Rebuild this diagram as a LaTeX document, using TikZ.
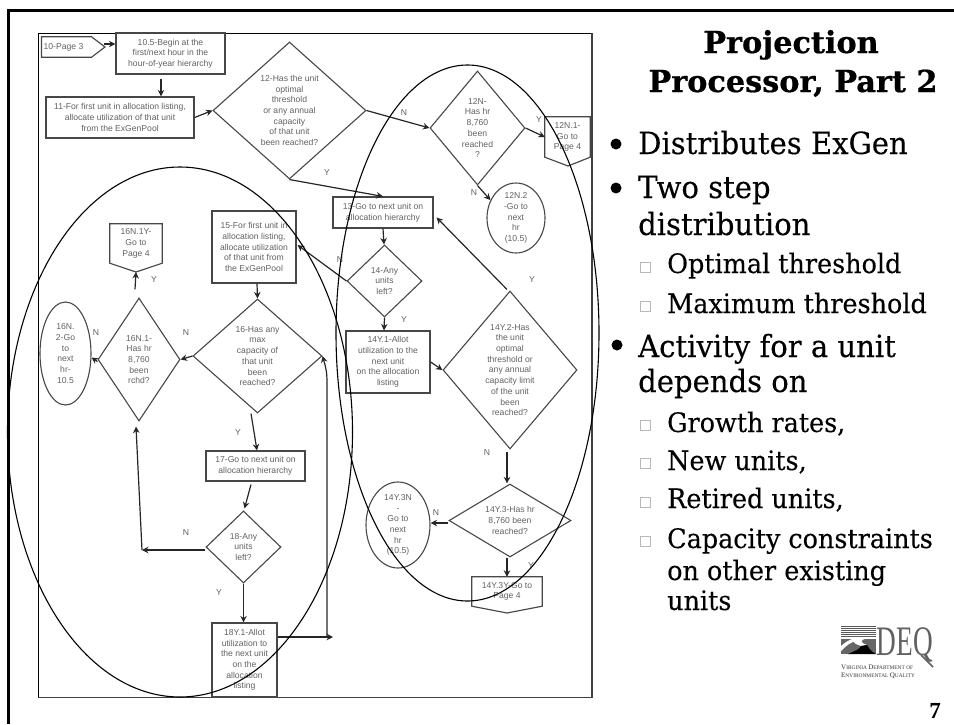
\documentclass[tikz,border=0pt]{standalone}
\usepackage{fontspec}
\setmainfont[FakeStretch=0.95,FakeBold=0.25]{DejaVu Serif}
\newfontfamily\titlefont[FakeBold=0.6]{DejaVu Serif Bold}
\newfontfamily\flowfont{Liberation Sans}
\newfontfamily\logofont{Liberation Serif}
\usetikzlibrary{shapes.geometric,arrows.meta,calc}
\definecolor{flowgray}{gray}{0.28}
\definecolor{flowtext}{gray}{0.38}
\definecolor{chkgray}{gray}{0.72}
\definecolor{logogray}{gray}{0.38}
\tikzset{
  stepbox/.style={draw=flowgray,line width=1.15pt,rectangle,inner sep=0pt,align=center,text=flowtext,font=\flowfont\fontsize{8.6}{10.7}\selectfont},
  offnode/.style={rectangle,inner sep=0pt,align=center,text=flowtext,font=\flowfont\fontsize{8.6}{10.7}\selectfont},
  offline/.style={draw=flowgray,line width=1.15pt,line join=miter},
  dia/.style={draw=flowgray,line width=1.1pt,diamond,inner sep=0pt},
  ell/.style={draw=flowgray,line width=1.1pt,ellipse,inner sep=0pt},
  txt/.style={inner sep=0pt,align=center,text=flowtext,font=\flowfont\fontsize{8.6}{10.7}\selectfont},
  lab/.style={inner sep=0pt,text=flowtext,font=\flowfont\fontsize{8.6}{10}\selectfont},
  conn/.style={draw=black!85,line width=1.2pt,-{Stealth[length=6.5pt,width=6.5pt]}},
  ring/.style={draw=black,line width=1.1pt,ellipse,inner sep=0pt},
  bigt/.style={anchor=base west,inner sep=0pt,font=\fontsize{30.6}{31}\selectfont},
  subt/.style={anchor=base west,inner sep=0pt,font=\fontsize{26.8}{30}\selectfont},
  titl/.style={anchor=base,inner sep=0pt,font=\titlefont\fontsize{30.3}{31}\selectfont},
  dot/.style={circle,fill=black,inner sep=0pt,minimum size=11pt},
  chk/.style={rectangle,draw=chkgray,line width=0.9pt,inner sep=0pt,minimum size=10pt},
}
\newcommand{\dianode}[6]{\node[dia,minimum width=#4pt,minimum height=#5pt] (#1) at (#2,#3) {};\node[txt] (#1T) at (#1) {#6};}
\newcommand{\ellnode}[6]{\node[ell,minimum width=#4pt,minimum height=#5pt] (#1) at (#2,#3) {};\node[txt] (#1T) at (#1) {#6};}
\newcommand{\boxnode}[6]{\node[stepbox,minimum width=#4pt,minimum height=#5pt] (#1) at (#2,#3) {#6};}
\begin{document}
\begin{tikzpicture}[x=1pt,y=-1pt]
\useasboundingbox (0,0) rectangle (954,724);
% slide rule
\coordinate (slA) at (8.5,724);
\coordinate (slB) at (8.5,10.5);
\coordinate (slC) at (954,10.5);
\draw[line width=2.6pt,line join=miter] (slA) -- (slB) -- (slC);
% frame
\coordinate (frTL) at (38,33);
\coordinate (frTR) at (592,33);
\coordinate (frBR) at (592,697.5);
\coordinate (frBL) at (38,697.5);
\draw[line width=1pt,black] (frBL) -- (frTL) -- (frTR);
\draw[line width=1.4pt,black!75] (frTR) -- (frBR) -- (frBL);
% boxes
\boxnode{n10h}{170.5}{53.5}{109}{41}{10.5-Begin at the\\first/next hour in the\\hour-of-year hierarchy}
\boxnode{n11}{120}{117.5}{148}{41}{11-For first unit in allocation listing,\\allocate utilization of that unit\\from the ExGenPool}
\boxnode{n13}{383}{212.5}{100}{31}{13-Go to next unit on\\allocation hierarchy}
\boxnode{n15}{254}{247}{84}{72}{15-For first unit in\\allocation listing,\\allocate utilization\\of that unit from\\the ExGenPool}
\boxnode{n14Y1}{388}{362}{84}{62}{14Y.1-Allot\\utilization to the\\next unit\\on the allocation\\listing}
\boxnode{n17}{255.5}{466}{99}{30}{17-Go to next unit on\\allocation hierarchy}
\boxnode{n18Y1}{244.5}{660}{65}{74}{18Y.1-Allot\\utilization to\\the next unit\\on the\\allocation\\listing}
% diamonds
\dianode{n12}{289.5}{110.5}{153}{137}{12-Has the unit\\optimal\\threshold\\or any annual\\capacity\\of that unit\\been reached?}
\dianode{n12n}{477.5}{128}{95}{114}{12N-\\Has hr\\8,760\\been\\reached\\?}
\dianode{n14}{384.5}{281}{75}{72}{14-Any\\units\\left?}
\dianode{n14Y2}{510}{370}{134}{158}{14Y.2-Has\\the unit\\optimal\\threshold or\\any annual\\capacity limit\\of the unit\\been\\reached?}
\dianode{n14Y3}{510}{520.5}{122}{73}{14Y.3-Has hr\\8,760 been\\reached?}
\dianode{n16}{257.5}{356}{129}{114}{16-Has any\\max\\capacity of\\that unit\\been\\reached?}
\dianode{n16N1}{139}{359.5}{82}{123}{16N.1-\\Has hr\\8,760\\been\\rchd?}
\dianode{n18}{243.5}{547}{75}{72}{18-Any\\units\\left?}
% ellipses
\ellnode{n12n2}{516}{218}{58}{70}{12N.2\\-Go to\\next\\hr\\(10.5)}
\ellnode{n14Y3N}{398}{525}{64}{86}{14Y.3N\\-\\Go to\\next\\hr\\(10.5)}
\ellnode{n16N2}{65.5}{353.5}{51}{103}{16N.\\2-Go\\to\\next\\hr-\\10.5}
% off-page connectors
\node[offnode,minimum width=47pt,minimum height=20pt] (n10p) at (66.5,47) {\hspace*{2pt}10-Page 3\hspace*{8pt}};
\coordinate (n10ptip) at (105,47);
\draw[offline] (n10p.north west) -- (n10p.north east) -- (n10ptip) -- (n10p.south east) -- (n10p.south west) -- cycle;
\node[offnode,minimum width=45pt,minimum height=40pt] (n12n1) at (567.5,137) {12N.1-\\Go to\\Page 4};
\coordinate (n12n1tip) at (568,166);
\draw[offline] (n12n1.north west) -- (n12n1.north east) -- (n12n1.south east) -- (n12n1tip) -- (n12n1.south west) -- cycle;
\node[offnode,minimum width=70pt,minimum height=29pt] (n14Y3Y) at (507,591.5) {14Y.3Y-Go to\\Page 4};
\coordinate (n14Y3Ytip) at (507,613);
\draw[offline] (n14Y3Y.north west) -- (n14Y3Y.north east) -- (n14Y3Y.south east) -- (n14Y3Ytip) -- (n14Y3Y.south west) -- cycle;
\node[offnode,minimum width=52pt,minimum height=39pt] (n16N1Y) at (136,243.5) {16N.1Y-\\Go to\\Page 4};
\coordinate (n16N1Ytip) at (136,272);
\draw[offline] (n16N1Y.north west) -- (n16N1Y.north east) -- (n16N1Y.south east) -- (n16N1Ytip) -- (n16N1Y.south west) -- cycle;
% connectors
\coordinate (n10pout) at (104,44);
\draw[conn] (n10pout) -- ([yshift=9.5pt]n10h.west);
\draw[conn] ([xshift=-9.5pt,yshift=-4pt]n10h.south) -- ([xshift=41pt]n11.north);
\draw[conn] (n11.east) -- (n12.west);
\draw[conn] (n12.east) -- (n12n.west);
\draw[conn] (n12.south) -- (n13.north);
\draw[conn] (n13.south) -- ([xshift=-0.5pt]n14.north);
\draw[conn] (n14.west) -- ([xshift=1pt,yshift=2pt]n15.east);
\draw[conn] (n14.south) -- ([xshift=-4pt]n14Y1.north);
\draw[conn] (n14Y1.east) -- (n14Y2.west);
\draw[conn] ([xshift=-3pt,yshift=1pt]n14Y2.north) -- ([xshift=3pt,yshift=-5pt]n13.east);
\draw[conn] ([xshift=-3pt,yshift=-2pt]n14Y2.south) -- ([xshift=-3pt]n14Y3.north);
\draw[conn] ([yshift=-2.5pt]n14Y3.west) -- ([yshift=2pt]n14Y3N.east);
\draw[conn] ([xshift=-3pt]n14Y3.south) -- (n14Y3Y.north);
\draw[conn] (n12n.east) -- (n12n1.west);
\draw[conn] (n12n.south) -- (n12n2.145);
\draw[conn] ([xshift=3pt]n15.south) -- (n16.north);
\draw[conn] (n16.west) -- (n16N1.east);
\draw[conn] ([yshift=-2pt]n16N1.west) -- ([yshift=-4pt]n16N2.east);
\draw[conn] ([xshift=-4pt,yshift=8pt]n16N1.north) -- (n16N1Ytip);
\draw[conn] ([xshift=-6.5pt]n16.south) -- ([xshift=1.5pt]n17.north);
\draw[conn] ([xshift=-4.5pt,yshift=-3pt]n17.south) -- ([xshift=1pt,yshift=2pt]n18.north);
\coordinate (c18a) at (142,550);
\draw[conn] ([yshift=-3pt]n18.west) -- (c18a);
\draw[conn] (c18a) -- ([xshift=-3pt,yshift=-5pt]n16N1.south);
\draw[conn] (n18.south) -- ([xshift=-1pt]n18Y1.north);
\coordinate (c18b) at (333,637);
\coordinate (c18c) at (327,637);
\coordinate (c18d) at (327,390);
\draw[conn] ([yshift=23pt]n18Y1.east) -- (c18b);
\draw[conn] (c18c) -- (c18d) .. controls (327,372) .. (n16.east);
% Y/N labels
\node[lab] (l1) at (404,113) {N};
\node[lab] (l2) at (327,173) {Y};
\node[lab] (l3) at (539,120) {Y};
\node[lab] (l4) at (474,193) {N};
\node[lab] (l5) at (340,260) {N};
\node[lab] (l6) at (404,320) {Y};
\node[lab] (l7) at (532,280) {Y};
\node[lab] (l8) at (487,453) {N};
\node[lab] (l9) at (436,513) {N};
\node[lab] (l10) at (531,566) {Y};
\node[lab] (l11) at (186,333) {N};
\node[lab] (l12) at (96,333) {N};
\node[lab] (l13) at (154,280) {Y};
\node[lab] (l14) at (238,433) {Y};
\node[lab] (l15) at (186,533) {N};
\node[lab] (l16) at (219,593) {Y};
% rings
\node[ring,minimum width=345pt,minimum height=530pt] (ringL) at (180,432) {};
\node[ring,minimum width=263pt,minimum height=536pt] (ringR) at (467.5,333) {};
% title and text
\node[titl] (t1) at (791,53) {Projection};
\node[titl] (t2) at (793,92) {Processor, Part 2};
\node[dot] (d1) at (616,144) {};
\node[dot] (d2) at (616,188) {};
\node[dot] (d3) at (617,345) {};
\node[bigt] (b1) at (638,154) {Distributes ExGen};
\node[bigt] (b2) at (638,198) {Two step};
\node[bigt] (b3) at (638,235) {distribution};
\node[bigt] (b4) at (638,357) {Activity for a unit};
\node[bigt] (b5) at (638,392) {depends on};
\node[subt] (s1) at (667,273) {Optimal threshold};
\node[subt] (s2) at (667,313) {Maximum threshold};
\node[subt] (s3) at (667,432) {Growth rates,};
\node[subt] (s4) at (667,470) {New units,};
\node[subt] (s5) at (667,508) {Retired units,};
\node[subt] (s6) at (667,548) {Capacity constraints};
\node[subt] (s7) at (667,580) {on other existing};
\node[subt] (s8) at (667,610) {units};
\node[chk] (k1) at (645,267) {};
\node[chk] (k2) at (645,306) {};
\node[chk] (k3) at (645,425) {};
\node[chk] (k4) at (645,463) {};
\node[chk] (k5) at (645,502) {};
\node[chk] (k6) at (645,541) {};
% logo
\foreach \yy in {626.5,628.5,630.5,632.5,634.5,636.5}{\draw[black!65,line width=1.2pt] (841,\yy) -- (876,\yy);}
\fill[black!60] (841,639) -- (876,639) -- (876,654) -- (841,654) -- cycle;
\fill[white] (841,646) .. controls (850,638) and (858,636) .. (868,638) .. controls (860,640) and (859,642) .. (867,645) -- (861,646) .. controls (853,643) and (852,642) .. (857,641) .. controls (850,642) and (846,646) .. (841,651) -- cycle;
\fill[black] (867,645) .. controls (869,648) and (870,651) .. (876,654) -- (848,654) .. controls (855,651) and (860,649) .. (861,646) -- cycle;
\node[inner sep=0pt,anchor=base west,xscale=0.65,transform shape,text=logogray,font=\logofont\fontsize{42}{42}\selectfont] (logoT) at (876.5,655) {DEQ};
\draw[logogray,line width=1.6pt] (921,655) -- (933,667);
\node[inner sep=0pt,anchor=base west,text=black!80,font=\logofont\fontsize{5.4}{5.4}\selectfont] (logoA) at (841,669.5) {{\fontsize{7}{7}\selectfont V}IRGINIA {\fontsize{7}{7}\selectfont D}EPARTMENT OF};
\node[inner sep=0pt,anchor=base west,text=black!80,font=\logofont\fontsize{5.4}{5.4}\selectfont] (logoB) at (841,677.5) {{\fontsize{7}{7}\selectfont E}NVIRONMENTAL {\fontsize{7}{7}\selectfont Q}UALITY};
\node[inner sep=0pt,anchor=base,font=\logofont\bfseries\fontsize{23}{23}\selectfont] (pg) at (935,718) {7};
\end{tikzpicture}
\end{document}
